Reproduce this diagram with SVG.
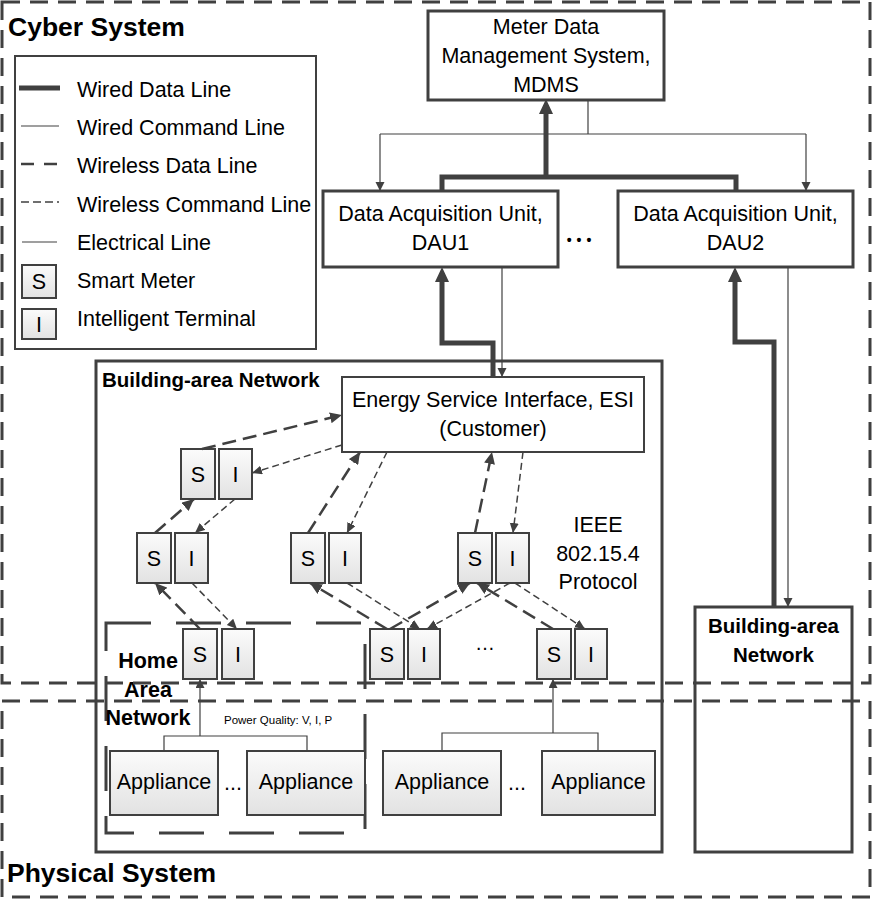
<svg xmlns="http://www.w3.org/2000/svg" width="873" height="900" viewBox="0 0 873 900">
<defs>
<linearGradient id="g" x1="0" y1="0" x2="0" y2="1">
<stop offset="0" stop-color="#fbfbfb"/>
<stop offset="1" stop-color="#e2e2e2"/>
</linearGradient>
<marker id="at" markerUnits="userSpaceOnUse" markerWidth="16" markerHeight="16" refX="9" refY="8" orient="auto">
<path d="M0,1 L15,8 L0,15 z" fill="#404040"/>
</marker>
<marker id="an" markerUnits="userSpaceOnUse" markerWidth="10" markerHeight="10" refX="9" refY="4.5" orient="auto">
<path d="M0,0 L9,4.5 L0,9 z" fill="#404040"/>
</marker>
<marker id="ad" markerUnits="userSpaceOnUse" markerWidth="13" markerHeight="11" refX="12" refY="5.5" orient="auto">
<path d="M0,0 L12,5.5 L0,11 z" fill="#404040"/>
</marker>
<marker id="ac" markerUnits="userSpaceOnUse" markerWidth="11" markerHeight="10" refX="10" refY="4.5" orient="auto">
<path d="M0,0 L10,4.5 L0,9 z" fill="#404040"/>
</marker>
</defs>
<style>
text{font-family:"Liberation Sans",Arial,sans-serif;fill:#000}
.t{font-size:21.5px}
.c{text-anchor:middle}
.b{font-weight:bold}
.box{fill:#fff;stroke:#404040;stroke-width:3}
.sm{fill:url(#g);stroke:#404040;stroke-width:2}
.thick{fill:none;stroke:#404040;stroke-width:5}
.thin{fill:none;stroke:#404040;stroke-width:1.2}
.wd{fill:none;stroke:#404040;stroke-width:2.5;stroke-dasharray:14 7;marker-end:url(#ad)}
.wc{fill:none;stroke:#404040;stroke-width:1.5;stroke-dasharray:7 4;marker-end:url(#ac)}
.border{fill:none;stroke:#404040;stroke-width:3;stroke-dasharray:18 10}
</style>

<g id="legend">
<rect x="15" y="56" width="301" height="293" fill="#fff" stroke="#404040" stroke-width="2"/>
<line x1="19" y1="88" x2="60" y2="88" stroke="#404040" stroke-width="5"/>
<line x1="21" y1="126" x2="59" y2="126" stroke="#404040" stroke-width="1.2"/>
<line x1="21" y1="164" x2="59" y2="164" stroke="#404040" stroke-width="2.5" stroke-dasharray="13 10"/>
<line x1="21" y1="202" x2="59" y2="202" stroke="#404040" stroke-width="1.5" stroke-dasharray="8 4"/>
<line x1="22" y1="242" x2="57" y2="242" stroke="#404040" stroke-width="1.2"/>
<rect x="22" y="265" width="34" height="33" class="sm"/>
<text x="39" y="289" class="t c">S</text>
<rect x="22" y="309" width="34" height="30" class="sm"/>
<text x="39" y="332" class="t c">I</text>
<text x="77" y="97" class="t">Wired Data Line</text>
<text x="77" y="135" class="t">Wired Command Line</text>
<text x="77" y="173" class="t">Wireless Data Line</text>
<text x="77" y="212" class="t">Wireless Command Line</text>
<text x="77" y="250" class="t">Electrical Line</text>
<text x="77" y="288" class="t">Smart Meter</text>
<text x="77" y="326" class="t">Intelligent Terminal</text>
</g>

<g id="ban-main">
<rect x="96" y="361" width="566" height="491" fill="none" stroke="#404040" stroke-width="3"/>
<text x="102" y="387" class="b" font-size="20.5">Building-area Network</text>
</g>

<g id="ban-right">
<rect x="695" y="607" width="157" height="245" fill="none" stroke="#404040" stroke-width="3"/>
<text x="773.5" y="633" class="b c" font-size="20.5">Building-area</text>
<text x="773.5" y="662" class="b c" font-size="20.5">Network</text>
</g>

<g id="han">
<rect x="106" y="623" width="259" height="210" fill="none" stroke="#404040" stroke-width="3" stroke-dasharray="45 25"/>
<text x="148" y="668" class="b c" font-size="21.5">Home</text>
<text x="148" y="697" class="b c" font-size="21.5">Area</text>
<text x="148" y="725" class="b c" font-size="21.5">Network</text>
</g>

<g id="mdms">
<rect x="428" y="11" width="236" height="89" class="box"/>
<text x="546" y="34" class="t c">Meter Data</text>
<text x="546" y="63" class="t c">Management System,</text>
<text x="546" y="92" class="t c">MDMS</text>
</g>

<g id="dau1">
<rect x="323" y="191" width="235" height="76" class="box"/>
<text x="440.5" y="221" class="t c">Data Acquisition Unit,</text>
<text x="440.5" y="250" class="t c">DAU1</text>
</g>

<g id="dau-dots">
<text x="581.5" y="245" class="c b" font-size="14" letter-spacing="5">•••</text>
</g>

<g id="dau2">
<rect x="618" y="191" width="235" height="76" class="box"/>
<text x="735.5" y="221" class="t c">Data Acquisition Unit,</text>
<text x="735.5" y="250" class="t c">DAU2</text>
</g>

<g id="esi">
<rect x="342" y="377" width="302" height="75" fill="#fff" stroke="#404040" stroke-width="2"/>
<text x="493" y="407" class="t c">Energy Service Interface, ESI</text>
<text x="493" y="436" class="t c">(Customer)</text>
</g>

<g id="protocol">
<text x="598" y="532" class="t c">IEEE</text>
<text x="598" y="561" class="t c">802.15.4</text>
<text x="598" y="589" class="t c">Protocol</text>
</g>

<g id="si-r1">
<rect x="181" y="449" width="34" height="50" class="sm"/><text x="198" y="482" class="t c">S</text>
<rect x="219" y="449" width="33" height="50" class="sm"/><text x="235.5" y="482" class="t c">I</text>
</g>
<g id="si-r2a">
<rect x="137" y="533" width="34" height="50" class="sm"/><text x="154" y="566" class="t c">S</text>
<rect x="175" y="533" width="33" height="50" class="sm"/><text x="191.5" y="566" class="t c">I</text>
</g>
<g id="si-r2b">
<rect x="291" y="533" width="34" height="50" class="sm"/><text x="308" y="566" class="t c">S</text>
<rect x="329" y="533" width="32" height="50" class="sm"/><text x="345" y="566" class="t c">I</text>
</g>
<g id="si-r2c">
<rect x="458" y="533" width="34" height="50" class="sm"/><text x="475" y="566" class="t c">S</text>
<rect x="496" y="533" width="33" height="50" class="sm"/><text x="512.5" y="566" class="t c">I</text>
</g>
<g id="si-r3a">
<rect x="183" y="629" width="34" height="50" class="sm"/><text x="200" y="662" class="t c">S</text>
<rect x="222" y="629" width="32" height="50" class="sm"/><text x="238" y="662" class="t c">I</text>
</g>
<g id="si-r3b">
<rect x="370" y="629" width="34" height="50" class="sm"/><text x="387" y="662" class="t c">S</text>
<rect x="408" y="629" width="32" height="50" class="sm"/><text x="424" y="662" class="t c">I</text>
</g>
<g id="si-dots"><text x="485" y="650" class="c" font-size="20">…</text></g>
<g id="si-r3c">
<rect x="537" y="629" width="34" height="50" class="sm"/><text x="554" y="662" class="t c">S</text>
<rect x="575" y="629" width="32" height="50" class="sm"/><text x="591" y="662" class="t c">I</text>
</g>

<g id="appliances">
<rect x="110" y="751" width="108" height="64" class="sm"/><text x="164" y="789" class="t c">Appliance</text>
<text x="233" y="790" class="t c">...</text>
<rect x="247" y="751" width="118" height="64" class="sm"/><text x="306" y="789" class="t c">Appliance</text>
<rect x="383" y="751" width="118" height="64" class="sm"/><text x="442" y="789" class="t c">Appliance</text>
<text x="517" y="790" class="t c">...</text>
<rect x="542" y="751" width="113" height="64" class="sm"/><text x="598.5" y="789" class="t c">Appliance</text>
</g>

<g id="pq"><text x="224" y="724" font-size="11.5">Power Quality: V, I, P</text></g>

<g id="connectors">
<polyline points="442,191 442,177 736,177 736,191" class="thick"/>
<line x1="546" y1="177" x2="546" y2="105" class="thick" marker-end="url(#at)"/>
<line x1="588" y1="100" x2="588" y2="134" class="thin"/>
<line x1="380" y1="134" x2="806" y2="134" class="thin"/>
<line x1="380" y1="134" x2="380" y2="191" class="thin" marker-end="url(#an)"/>
<line x1="806" y1="134" x2="806" y2="191" class="thin" marker-end="url(#an)"/>
<polyline points="493,377 493,343 442,343 442,273" class="thick" marker-end="url(#at)"/>
<line x1="502" y1="267" x2="502" y2="377" class="thin" marker-end="url(#an)"/>
<polyline points="774,607 774,342 735,342 735,273" class="thick" marker-end="url(#at)"/>
<line x1="788" y1="267" x2="788" y2="607" class="thin" marker-end="url(#an)"/>

<line x1="202" y1="449" x2="342" y2="415" class="wd"/>
<line x1="342" y1="445" x2="252" y2="473" class="wc"/>
<line x1="155" y1="533" x2="194" y2="499" class="wd"/>
<line x1="235" y1="499" x2="195" y2="533" class="wc"/>
<line x1="200" y1="629" x2="155" y2="583" class="wd"/>
<line x1="192" y1="583" x2="237" y2="629" class="wc"/>
<line x1="308" y1="533" x2="360" y2="452" class="wd"/>
<line x1="387" y1="452" x2="347" y2="533" class="wc"/>
<line x1="387" y1="629" x2="310" y2="583" class="wd"/>
<line x1="347" y1="583" x2="420" y2="629" class="wc"/>
<line x1="390" y1="629" x2="470" y2="583" class="wd"/>
<line x1="510" y1="583" x2="427" y2="629" class="wc"/>
<line x1="553" y1="629" x2="477" y2="583" class="wd"/>
<line x1="515" y1="583" x2="585" y2="629" class="wc"/>
<line x1="475" y1="533" x2="492" y2="452" class="wd"/>
<line x1="523" y1="452" x2="513" y2="533" class="wc"/>

<polyline points="164,751 164,736 307,736 307,751" class="thin"/>
<line x1="200" y1="736" x2="200" y2="679" class="thin" marker-end="url(#an)"/>
<polyline points="442,751 442,733 598,733 598,751" class="thin"/>
<line x1="553" y1="733" x2="553" y2="679" class="thin" marker-end="url(#an)"/>
</g>

<g id="cyber-system">
<rect x="2" y="2" width="868" height="681" class="border"/>
<text x="8" y="36" class="b" font-size="26.5">Cyber System</text>
</g>
<g id="physical-system">
<rect x="2" y="701" width="868" height="196" class="border"/>
<text x="7" y="882" class="b" font-size="26.5">Physical System</text>
</g>
</svg>
